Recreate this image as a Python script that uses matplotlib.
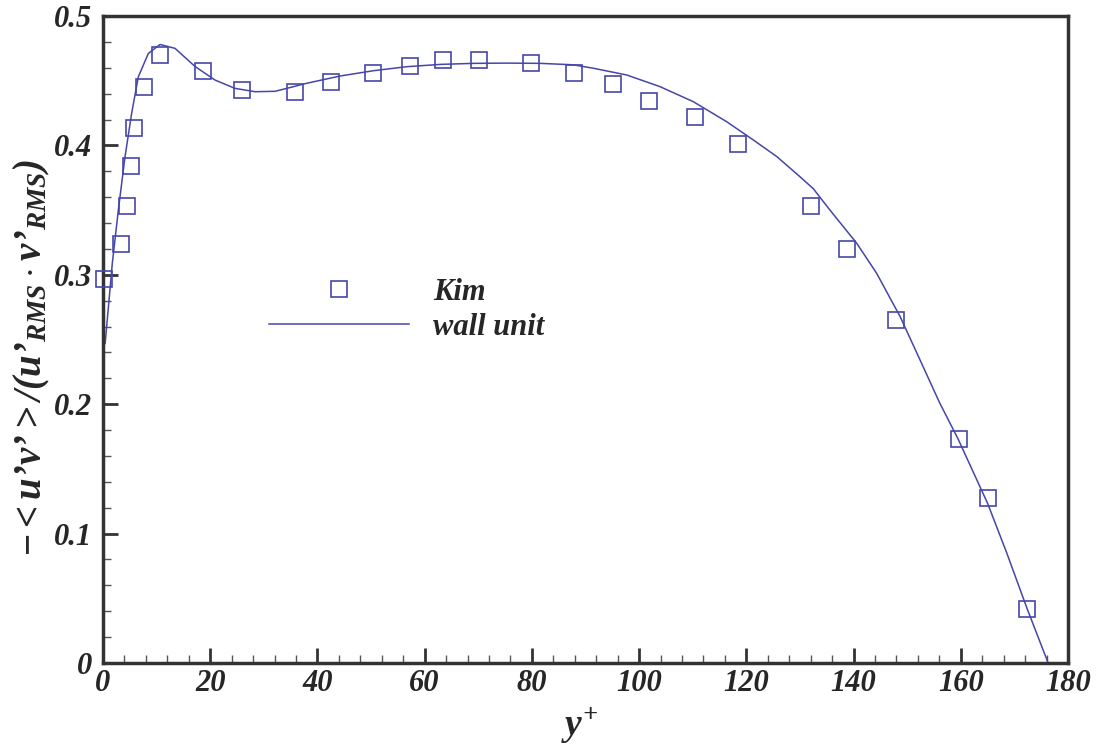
import matplotlib
matplotlib.use("Agg")
import matplotlib.pyplot as plt
from matplotlib.ticker import MultipleLocator

# ---- data ----
kim_y = [0.24, 3.30, 4.53, 5.17, 5.78, 7.59, 10.69, 18.6, 25.98, 35.8, 42.5,
         50.4, 57.3, 63.4, 70.1, 79.8, 87.8, 95.2, 101.9, 110.5, 118.5,
         132.0, 138.7, 147.9, 159.6, 165.0, 172.4]
kim_v = [0.2965, 0.3238, 0.3532, 0.3843, 0.4137, 0.4451, 0.4701, 0.4575, 0.4428,
         0.4410, 0.4493, 0.4557, 0.4616, 0.4660, 0.4660, 0.4639, 0.4557, 0.4472,
         0.4346, 0.4222, 0.4011, 0.3532, 0.3197, 0.2653, 0.1731, 0.1273, 0.0417]

wall_y = [0.4, 1.74, 2.86, 4.1, 5.35, 6.59, 8.45, 10.63, 13.43, 17.16, 20.9,
          24.6, 28.35, 32.1, 38.0, 44.2, 50.4, 56.6, 62.9, 69.1, 75.3, 81.5,
          87.7, 91.5, 97.7, 103.9, 110.1, 116.3, 121.3, 125.7, 130.0, 132.5,
          135.6, 140.6, 144.3, 148.7, 152.4, 156.1, 159.5, 165.0, 168.6, 172.4, 176.3]
wall_v = [0.247, 0.309, 0.350, 0.391, 0.425, 0.453, 0.471, 0.478, 0.475, 0.461, 0.4505,
          0.4441, 0.4415, 0.4418, 0.448, 0.4536, 0.4577, 0.4608, 0.4626, 0.4634, 0.4636, 0.4634,
          0.4623, 0.4596, 0.4544, 0.4454, 0.4338, 0.4184, 0.4042, 0.3913, 0.3758, 0.3665,
          0.350, 0.3243, 0.3012, 0.2676, 0.2342, 0.2007, 0.1731, 0.1234, 0.0848, 0.0417, 0.0]

x_ticks = [0, 20, 40, 60, 80, 100, 120, 140, 160, 180]
x_tick_labels = ["0", "20", "40", "60", "80", "100", "120", "140", "160", "180"]
y_ticks = [0, 0.1, 0.2, 0.3, 0.4, 0.5]
y_tick_labels = ["0", "0.1", "0.2", "0.3", "0.4", "0.5"]

series_labels = ["Kim", "wall unit"]

# ---- style ----
plt.rcParams["font.family"] = ["Liberation Serif", "DejaVu Serif"]
plt.rcParams["font.weight"] = "bold"
plt.rcParams["font.style"] = "italic"
plt.rcParams["mathtext.fontset"] = "custom"
plt.rcParams["mathtext.rm"] = "Liberation Serif:bold:italic"
plt.rcParams["mathtext.it"] = "Liberation Serif:bold:italic"
plt.rcParams["mathtext.bf"] = "Liberation Serif:bold:italic"
plt.rcParams["mathtext.sf"] = "Liberation Serif:bold:italic"

TXT = "#262626"
BLUE = "#4646AA"
FRAME = "#333333"

fig = plt.figure(figsize=(10.99, 7.47), dpi=100)
ax = fig.add_axes([103 / 1099, 84 / 747, 965 / 1099, 647 / 747])

ax.plot(kim_y, kim_v, linestyle="none", marker="s", markersize=11.5,
        markerfacecolor="none", markeredgecolor=BLUE, markeredgewidth=1.2,
        label=series_labels[0], clip_on=False, zorder=3)
ax.plot(wall_y, wall_v, color=BLUE, linewidth=1.1, label=series_labels[1], zorder=2)

ax.set_xlim(0, 180)
ax.set_ylim(0, 0.5)
ax.set_xticks(x_ticks)
ax.set_xticklabels(x_tick_labels)
ax.set_yticks(y_ticks)
ax.set_yticklabels(y_tick_labels)
ax.xaxis.set_minor_locator(MultipleLocator(4))
ax.yaxis.set_minor_locator(MultipleLocator(0.02))

ax.tick_params(which="major", direction="in", length=11, width=2.0, color=FRAME,
               labelsize=22, labelcolor=TXT, top=False, right=False)
ax.tick_params(axis="y", which="major", pad=8)
ax.tick_params(axis="x", which="major", pad=4)
ax.tick_params(which="minor", direction="in", length=6, width=1.0, color="#555555",
               top=False, right=False)
for lab in ax.get_xticklabels() + ax.get_yticklabels():
    lab.set_fontweight("bold")
    lab.set_fontstyle("italic")

for sp in ax.spines.values():
    sp.set_linewidth(2.5)
    sp.set_color(FRAME)

ax.set_xlabel(r"$y^{+}$", fontsize=27, color=TXT)
ax.xaxis.label.set_va("center")
ax.xaxis.set_label_coords(0.494, -0.096)

ax.set_ylabel("$-<u\u2019v\u2019>/(u\u2019_{RMS}\\cdot v\u2019_{RMS})$", fontsize=28, color=TXT)
ax.yaxis.label.set_va("center")
ax.yaxis.set_label_coords(-0.074, 0.471)

leg = ax.legend(loc="upper left", bbox_to_anchor=(0.172, 0.595), frameon=False,
                fontsize=22, handlelength=4.58, handletextpad=0.78,
                borderpad=0, borderaxespad=0, labelspacing=0.2, numpoints=1)
for t in leg.get_texts():
    t.set_color(TXT)

fig.savefig("out.png", dpi=100)
